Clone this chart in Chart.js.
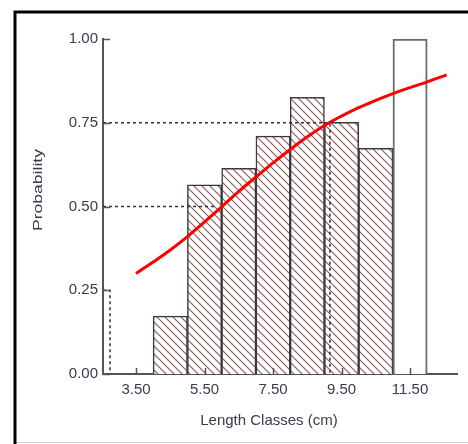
<!DOCTYPE html>
<html lang="en">

<head>
	<meta charset="UTF-8">
	<title>Length Classes Probability</title>
	<script src="https://cdn.jsdelivr.net/npm/chart.js"></script>
	<style>
		body { margin: 0; background: #fff; }
		canvas { display: block; }
	</style>
</head>

<body>
	<canvas id="myChart" width="468" height="444"></canvas>

	<script>
		// histogram bins (1 cm classes, centred on x.5)
		const binCenters = [4.5, 5.5, 6.5, 7.5, 8.5, 9.5, 10.5, 11.5];
		const binProb = [0.173, 0.565, 0.614, 0.710, 0.826, 0.751, 0.674, 1.00];

		// fitted curve
		const curveX = [3.5, 4.0, 4.5, 5.0, 5.5, 6.0, 6.5, 7.0, 7.5, 8.0, 8.5, 9.0, 9.5, 10.0, 10.5, 11.0, 11.5, 12.0, 12.57];
		const curveY = [0.300, 0.334, 0.370, 0.410, 0.454, 0.499, 0.545, 0.588, 0.630, 0.670, 0.708, 0.742, 0.770, 0.795, 0.817, 0.837, 0.855, 0.872, 0.893];

		// reference lines (L25, L50, L75)
		const refProb = [0.25, 0.50, 0.75];
		const refLength = [2.74, 5.80, 9.16];
		const refDrop = [true, false, true];

		const xTicks = [3.5, 5.5, 7.5, 9.5, 11.5];
		const yTicks = [0, 0.25, 0.5, 0.75, 1.0];
		const xMin = 2.536, xMax = 12.87;

		function hatch() {
			const n = 8;
			const c = document.createElement('canvas');
			c.width = n; c.height = n;
			const g = c.getContext('2d');
			g.fillStyle = '#fff';
			g.fillRect(0, 0, n, n);
			g.strokeStyle = '#8c5858';
			g.lineWidth = 1.1;
			g.beginPath();
			g.moveTo(-1, -1); g.lineTo(n + 1, n + 1);
			g.moveTo(-1, n - 1); g.lineTo(1, n + 1);
			g.moveTo(n - 1, -1); g.lineTo(n + 1, 1);
			g.stroke();
			return g.createPattern(c, 'repeat');
		}

		const pattern = hatch();
		const barFill = binProb.map((_, i) => i === binProb.length - 1 ? '#ffffff' : pattern);
		const barBorder = binProb.map((_, i) => i === binProb.length - 1 ? '#6a6a6a' : '#3a3a3a');
		const barBorderW = binProb.map((_, i) => i === binProb.length - 1 ? 2 : 1.5);

		const refSets = refProb.map((p, i) => {
			const pts = [{ x: xMin, y: p }, { x: refLength[i], y: p }];
			if (refDrop[i]) pts.push({ x: refLength[i], y: 0 });
			return {
				type: 'line',
				data: pts,
				borderColor: '#333',
				borderWidth: 1.5,
				borderDash: [3, 3],
				pointRadius: 0,
				tension: 0,
				order: 1
			};
		});

		// frame, axis titles and inward tick marks
		const decor = {
			id: 'decor',
			beforeDraw(chart) {
				const ctx = chart.ctx;
				ctx.save();
				ctx.fillStyle = '#fff';
				ctx.fillRect(0, 0, chart.width, chart.height);
				ctx.strokeStyle = '#d0d0d0';
				ctx.lineWidth = 1;
				ctx.beginPath();
				ctx.moveTo(15, 442.5); ctx.lineTo(chart.width, 442.5);
				ctx.stroke();
				ctx.strokeStyle = '#000';
				ctx.lineWidth = 3;
				ctx.beginPath();
				ctx.moveTo(15, 444); ctx.lineTo(15, 12); ctx.lineTo(chart.width + 2, 12);
				ctx.stroke();
				ctx.restore();
			},
			afterDraw(chart) {
				const ctx = chart.ctx;
				const xs = chart.scales.x, ys = chart.scales.y;
				const area = chart.chartArea;
				ctx.save();
				ctx.strokeStyle = '#555';
				ctx.lineWidth = 1.5;
				ctx.beginPath();
				xTicks.forEach(v => {
					const px = Math.round(xs.getPixelForValue(v)) + 0.5;
					ctx.moveTo(px, area.bottom); ctx.lineTo(px, area.bottom - 6);
				});
				yTicks.forEach(v => {
					const py = Math.round(ys.getPixelForValue(v)) + 0.5;
					ctx.moveTo(area.left, py); ctx.lineTo(area.left + 7, py);
				});
				ctx.stroke();

				ctx.fillStyle = '#3a3a50';
				ctx.textAlign = 'center';
				ctx.textBaseline = 'middle';
				ctx.font = '15px Arial';
				ctx.fillText('Length Classes (cm)', 269, 421);

				ctx.translate(38, 190);
				ctx.rotate(-Math.PI / 2);
				ctx.scale(1.35, 1);
				ctx.font = '13px Arial';
				ctx.fillText('Probability', 0, 0);
				ctx.restore();
			}
		};

		const ctx = document.getElementById('myChart').getContext('2d');

		const myChart = new Chart(ctx, {
			type: 'bar',
			data: {
				datasets: [
					{
						type: 'line',
						data: curveX.map((x, i) => ({ x: x, y: curveY[i] })),
						borderColor: '#ff0000',
						borderWidth: 3,
						pointRadius: 0,
						tension: 0.4,
						order: 0
					},
					...refSets,
					{
						type: 'bar',
						data: binCenters.map((x, i) => ({ x: x, y: binProb[i] })),
						backgroundColor: barFill,
						borderColor: barBorder,
						borderWidth: barBorderW,
						barPercentage: 1,
						categoryPercentage: 1,
						order: 2
					}
				]
			},
			options: {
				responsive: false,
				animation: false,
				layout: { padding: { left: 0, top: 39, right: 11, bottom: 0 } },
				plugins: { legend: { display: false }, tooltip: { enabled: false } },
				scales: {
					x: {
						type: 'linear',
						offset: false,
						min: xMin,
						max: xMax,
						afterBuildTicks: s => { s.ticks = xTicks.map(v => ({ value: v })); },
						afterFit: s => { s.height = 70; },
						grid: { display: false, drawTicks: false },
						border: { display: true, color: '#555', width: 2 },
						ticks: {
							padding: 7,
							color: '#3a3a50',
							font: { family: 'Arial', size: 15 },
							callback: v => Number(v).toFixed(2)
						}
					},
					y: {
						min: 0,
						max: 1,
						afterBuildTicks: s => { s.ticks = yTicks.map(v => ({ value: v })); },
						afterFit: s => { s.width = 103; },
						grid: { display: false, drawTicks: false },
						border: { display: true, color: '#555', width: 2 },
						ticks: {
							padding: 5,
							color: '#3a3a50',
							font: { family: 'Arial', size: 15 },
							callback: v => Number(v).toFixed(2)
						}
					}
				}
			},
			plugins: [decor]
		});
	</script>
</body>

</html>
